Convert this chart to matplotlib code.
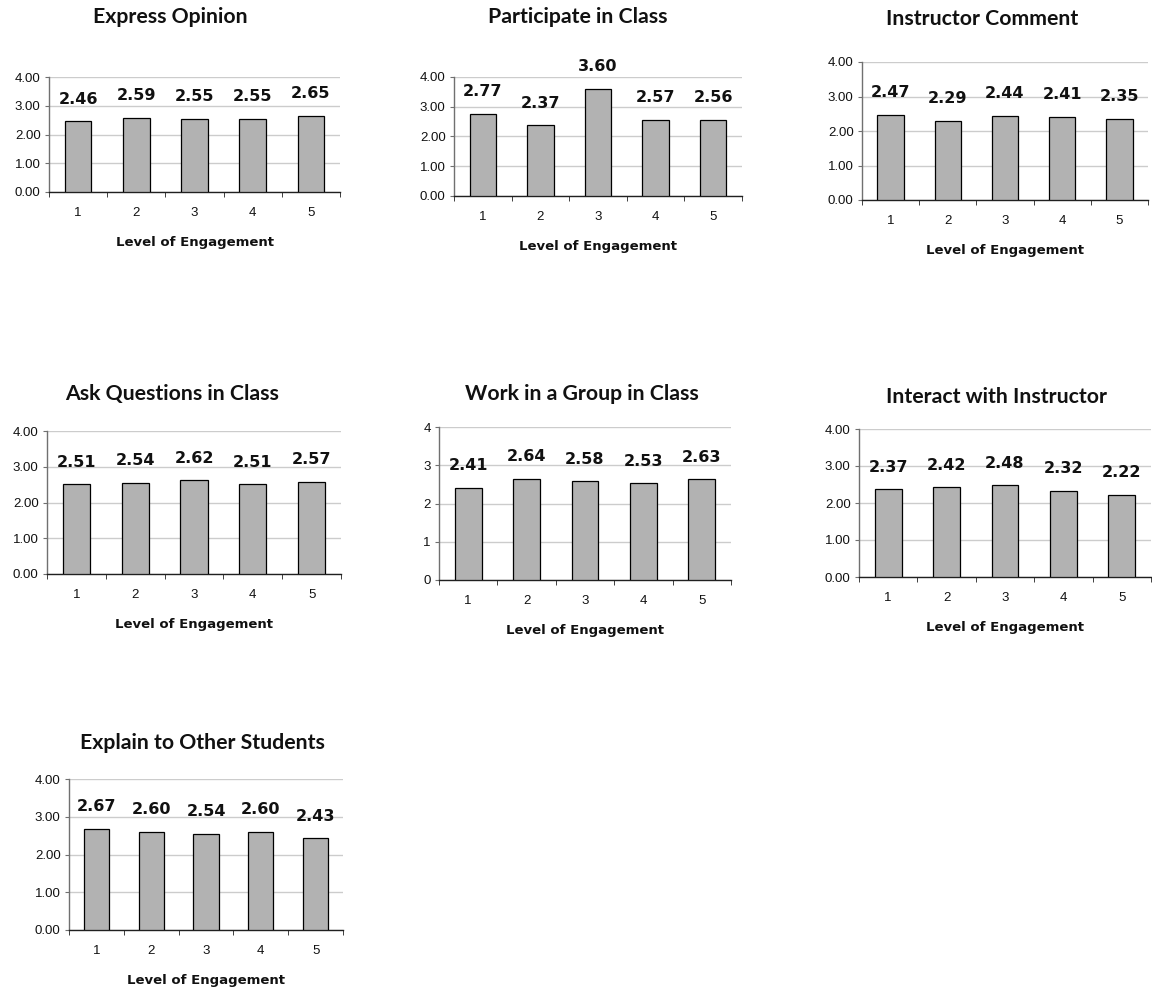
import matplotlib
matplotlib.use("Agg")
import matplotlib.pyplot as plt
from matplotlib.ticker import FixedLocator, FormatStrFormatter

# Mean response by level of engagement for each activity
levels = [1, 2, 3, 4, 5]
titles = [
    "Express Opinion",
    "Participate in Class",
    "Instructor Comment",
    "Ask Questions in Class",
    "Work in a Group in Class",
    "Interact with Instructor",
    "Explain to Other Students",
]
express_opinion = [2.46, 2.59, 2.55, 2.55, 2.65]
participate_in_class = [2.77, 2.37, 3.60, 2.57, 2.56]
instructor_comment = [2.47, 2.29, 2.44, 2.41, 2.35]
ask_questions = [2.51, 2.54, 2.62, 2.51, 2.57]
work_in_group = [2.41, 2.64, 2.58, 2.53, 2.63]
interact_instructor = [2.37, 2.42, 2.48, 2.32, 2.22]
explain_to_others = [2.67, 2.60, 2.54, 2.60, 2.43]
series = [express_opinion, participate_in_class, instructor_comment,
          ask_questions, work_in_group, interact_instructor, explain_to_others]
ytick_formats = ["%.2f", "%.2f", "%.2f", "%.2f", "%d", "%.2f", "%.2f"]

W, H = 1152, 992
fig = plt.figure(figsize=(W / 100, H / 100), dpi=100)

# panel boxes in pixels: left, right, top (y=4), bottom (y=0); title centre
boxes = [
    (49, 340, 77, 192, 170, 17),
    (454, 742, 77, 196, 578, 17),
    (862, 1148, 62, 200, 982, 19),
    (47, 341, 431, 574, 172, 394),
    (439, 731, 427, 580, 582, 394),
    (859, 1151, 429, 577, 997, 397),
    (69, 343, 779, 930, 202, 743),
]

tick_font = "Liberation Sans"
bold_font = "DejaVu Sans"
title_font = "Lato"

for title, vals, fmt, (xl, xr, yt, yb, tx, ty) in zip(titles, series, ytick_formats, boxes):
    ax = fig.add_axes([xl / W, 1 - yb / H, (xr - xl) / W, (yb - yt) / H])
    ax.bar(levels, vals, width=0.46, color="#b2b2b2", edgecolor="black",
           linewidth=0.9, zorder=3)
    ax.set_xlim(0.5, 5.5)
    ax.set_ylim(0, 4)
    ax.yaxis.set_major_locator(FixedLocator([0, 1, 2, 3, 4]))
    ax.yaxis.set_major_formatter(FormatStrFormatter(fmt))
    ax.grid(axis="y", color="#cccccc", linewidth=1.0, zorder=0)
    ax.set_axisbelow(True)
    for s in ("top", "right"):
        ax.spines[s].set_visible(False)
    ax.spines["left"].set_color("#707070")
    ax.spines["bottom"].set_color("#202020")
    ax.spines["left"].set_linewidth(1.0)
    ax.spines["bottom"].set_linewidth(1.0)

    ax.set_xticks(levels)
    ax.set_xticklabels([str(v) for v in levels])
    ax.set_xticks([0.5, 1.5, 2.5, 3.5, 4.5, 5.5], minor=True)
    ax.tick_params(axis="x", which="major", length=0, pad=11,
                   labelsize=9.5, labelcolor="#111111")
    ax.tick_params(axis="x", which="minor", length=3.5, direction="out",
                   color="#202020")
    ax.tick_params(axis="y", length=3, direction="out", pad=3,
                   labelsize=9.5, labelcolor="#111111", color="#707070")
    for lab in ax.get_xticklabels() + ax.get_yticklabels():
        lab.set_fontfamily(tick_font)

    ax.set_xlabel("Level of Engagement", fontsize=9.5, fontweight="bold",
                  fontfamily=bold_font, labelpad=12, color="#111111")

    for x, v in zip(levels, vals):
        ax.annotate(f"{v:.2f}", xy=(x, v), xytext=(0, 16),
                    textcoords="offset points", ha="center", va="center",
                    fontsize=11.5, fontweight="bold", fontfamily=bold_font,
                    color="#111111", zorder=4)

    fig.text(tx / W, 1 - ty / H, title, ha="center", va="center",
             fontsize=15.3, fontweight="bold", fontfamily=title_font,
             color="#111111")

fig.savefig("out.png", dpi=100, facecolor="white")
